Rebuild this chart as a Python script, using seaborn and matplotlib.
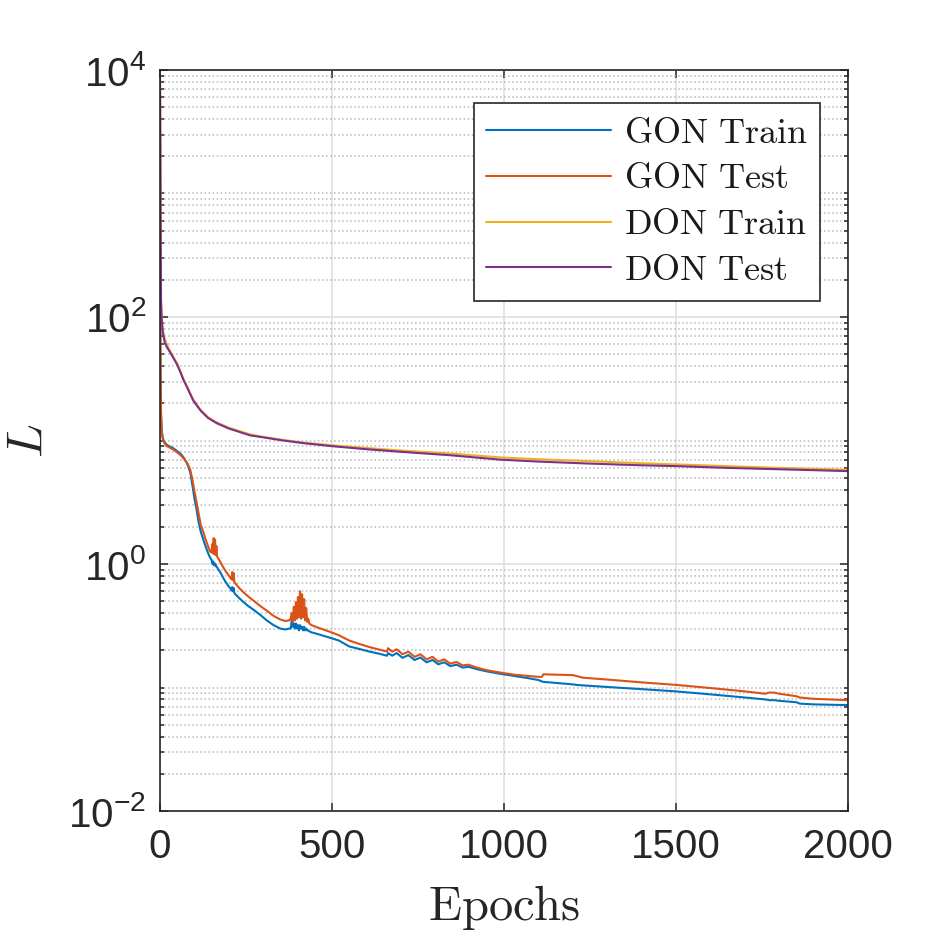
import numpy as np
import pandas as pd
import matplotlib
matplotlib.use("Agg")
import matplotlib.pyplot as plt
import matplotlib.ticker as mticker
import seaborn as sns

# ---------------- data ----------------
gon_epochs = [0, 1, 2, 3, 5, 8, 12, 20, 30, 40, 50, 60, 70, 80, 88, 95, 100, 106, 112, 118, 125, 132, 140, 146,
              150, 152, 154, 156, 158, 160, 162, 164, 166, 170, 176, 182, 190, 198, 205, 208, 210, 212, 214, 216, 218, 222,
              230, 240, 255, 270, 290, 310, 330, 350, 365, 375, 380,
              383, 386, 389, 392, 395, 398, 401, 404, 407, 410, 413, 416, 419, 422, 425, 428, 431, 434,
              440, 460, 490, 520, 550, 580, 610, 640, 655, 660, 663,
              675, 688, 705, 722, 740, 757, 775, 792, 809, 826, 844, 862, 880, 897,
              920, 950, 990, 1030, 1070, 1100, 1110, 1115, 1150, 1200, 1210, 1230, 1300, 1400, 1500, 1600, 1700,
              1760, 1770, 1785, 1800, 1850, 1860, 1900, 2000]

gon_train = [250, 60, 25, 16, 12, 10.5, 9.8, 9.2, 8.9, 8.6, 8.2, 7.8, 7.2, 6.4, 5.5, 4.2, 3.4, 2.8, 2.2, 1.85, 1.6, 1.4, 1.22, 1.12,
             1.08, 1.01, 1.05, 0.98, 1.02, 0.97, 0.99, 0.95, 0.94, 0.90, 0.85, 0.79, 0.72, 0.67, 0.63, 0.61, 0.65, 0.60, 0.64, 0.59, 0.57, 0.56,
             0.53, 0.50, 0.46, 0.43, 0.39, 0.35, 0.32, 0.30, 0.295, 0.30, 0.30,
             0.35, 0.31, 0.33, 0.30, 0.33, 0.30, 0.32, 0.29, 0.32, 0.30, 0.31, 0.29, 0.31, 0.29, 0.30, 0.29, 0.29, 0.285,
             0.28, 0.27, 0.255, 0.24, 0.215, 0.205, 0.195, 0.187, 0.182, 0.181, 0.19,
             0.181, 0.19, 0.174, 0.183, 0.167, 0.175, 0.16, 0.167, 0.154, 0.16, 0.149, 0.153, 0.145, 0.147,
             0.141, 0.135, 0.129, 0.124, 0.119, 0.115, 0.112, 0.111, 0.109, 0.106, 0.105, 0.104, 0.101, 0.097, 0.093, 0.088, 0.083,
             0.080, 0.079, 0.079, 0.078, 0.076, 0.074, 0.073, 0.072]

gon_test = [260, 65, 26, 16.5, 12, 10.3, 9.6, 9.0, 8.7, 8.4, 8.0, 7.6, 7.1, 6.5, 5.8, 4.7, 3.9, 3.2, 2.6, 2.1, 1.85, 1.6, 1.38, 1.26,
            1.24, 1.45, 1.22, 1.62, 1.20, 1.58, 1.18, 1.40, 1.15, 1.10, 1.03, 0.96, 0.88, 0.82, 0.77, 0.75, 0.86, 0.74, 0.84, 0.72, 0.70, 0.68,
            0.64, 0.60, 0.55, 0.51, 0.46, 0.42, 0.38, 0.355, 0.345, 0.35, 0.36,
            0.40, 0.34, 0.45, 0.35, 0.49, 0.36, 0.54, 0.37, 0.60, 0.36, 0.57, 0.37, 0.52, 0.35, 0.44, 0.34, 0.36, 0.33,
            0.32, 0.305, 0.285, 0.265, 0.24, 0.225, 0.212, 0.202, 0.197, 0.196, 0.208,
            0.195, 0.204, 0.186, 0.195, 0.177, 0.186, 0.169, 0.177, 0.162, 0.169, 0.156, 0.161, 0.151, 0.153,
            0.145, 0.138, 0.132, 0.127, 0.124, 0.122, 0.122, 0.128, 0.127, 0.126, 0.124, 0.120, 0.116, 0.110, 0.105, 0.099, 0.093,
            0.089, 0.091, 0.091, 0.089, 0.085, 0.083, 0.081, 0.079]

don_epochs = [0, 1, 2, 3, 5, 8, 14, 20, 29, 40, 50, 58, 68, 80, 87, 97, 110, 120, 140, 165, 200, 262, 300, 358, 420,
              499, 600, 700, 843, 988, 1100, 1250, 1400, 1502, 1650, 1800, 2000]
don_test = [9000, 2500, 400, 130, 94, 75, 62, 57, 52, 46, 41, 36.5, 31, 26.5, 24, 21, 18.7, 17.2, 15.2, 13.8, 12.5, 11, 10.6, 10.0, 9.5,
            9.0, 8.5, 8.1, 7.6, 7.0, 6.75, 6.5, 6.3, 6.2, 6.0, 5.85, 5.65]
don_train = [9000, 2600, 420, 140, 100, 80, 66, 60, 53, 47, 42, 37, 31.5, 27, 24.4, 21.4, 19.0, 17.5, 15.4, 14.0, 12.7, 11.2, 10.7, 10.1, 9.6,
             9.15, 8.7, 8.3, 7.85, 7.3, 7.05, 6.8, 6.55, 6.4, 6.2, 6.0, 5.8]

labels = ["GON Train", "GON Test", "DON Train", "DON Test"]
colors = ["#0072BD", "#D95319", "#EDB120", "#7E2F8E"]
x_ticks = [0, 500, 1000, 1500, 2000]

# ---------------- style ----------------
sns.set_theme(style="white")
plt.rcParams["font.family"] = ["Liberation Sans", "DejaVu Sans"]
plt.rcParams["mathtext.fontset"] = "cm"

fig = plt.figure(figsize=(9.38, 9.38), dpi=100)
ax = fig.add_axes([160 / 938, 127 / 938, 688 / 938, 741 / 938])

series = [(gon_epochs, gon_train), (gon_epochs, gon_test), (don_epochs, don_train), (don_epochs, don_test)]
for (xs, ys), lab, col in zip(series, labels, colors):
    df = pd.DataFrame({"Epochs": xs, "L": ys})
    sns.lineplot(data=df, x="Epochs", y="L", ax=ax, color=col, linewidth=1.5,
                 label=r"$\mathrm{" + lab.replace(" ", r"\ ") + "}$", sort=False, estimator=None)

ax.set_yscale("log")
ax.set_xlim(0, 2000)
ax.set_ylim(1e-2, 1e4)
ax.set_xticks(x_ticks)
ax.xaxis.set_major_formatter(mticker.FuncFormatter(lambda v, p: f"{int(v)}"))
ax.yaxis.set_major_locator(mticker.FixedLocator([1e-2, 1e0, 1e2, 1e4]))
ax.yaxis.set_minor_locator(mticker.LogLocator(base=10, subs=np.arange(1, 10), numticks=50))
ax.yaxis.set_minor_formatter(mticker.NullFormatter())
ax.yaxis.set_major_formatter(mticker.FuncFormatter(
    lambda v, p: r"$\mathregular{10^{%d}}$" % int(round(np.log10(v)))))

ax.grid(which="major", axis="both", color="#dcdcdc", linestyle="-", linewidth=1.1)
ax.grid(which="minor", axis="y", color="#b8b8b8", linestyle=":", linewidth=1.1)
ax.set_axisbelow(True)

for s in ax.spines.values():
    s.set_color("#262626")
    s.set_linewidth(1.2)
    s.set_visible(True)

ax.tick_params(which="both", direction="in", top=True, right=True, left=True, bottom=True,
               color="#262626", width=1.1)
ax.tick_params(which="major", length=6, labelsize=29, labelcolor="#262626")
ax.tick_params(axis="x", which="major", pad=12)
ax.tick_params(axis="y", which="major", pad=10)
ax.tick_params(which="minor", length=3)

ax.set_xlabel(r"$\mathrm{Epochs}$", fontsize=35, color="#262626")
ax.set_ylabel(r"$L$", fontsize=36, color="#262626")
ax.xaxis.set_label_coords(0.5, -(883 - 811) / 741)
ax.yaxis.set_label_coords((52 - 160) / 688, 0.5)

leg = ax.legend(loc="upper right", bbox_to_anchor=((820 - 160) / 688, (811 - 103) / 741),
                borderaxespad=0, fontsize=26, handlelength=3.45, handletextpad=0.35,
                labelspacing=0.3, borderpad=0.35, fancybox=False, framealpha=1, frameon=True)
leg.get_frame().set_edgecolor("#262626")
leg.get_frame().set_linewidth(1.2)
for t in leg.get_texts():
    t.set_color("#1a1a1a")

fig.savefig("out.png", dpi=100, facecolor="white")
